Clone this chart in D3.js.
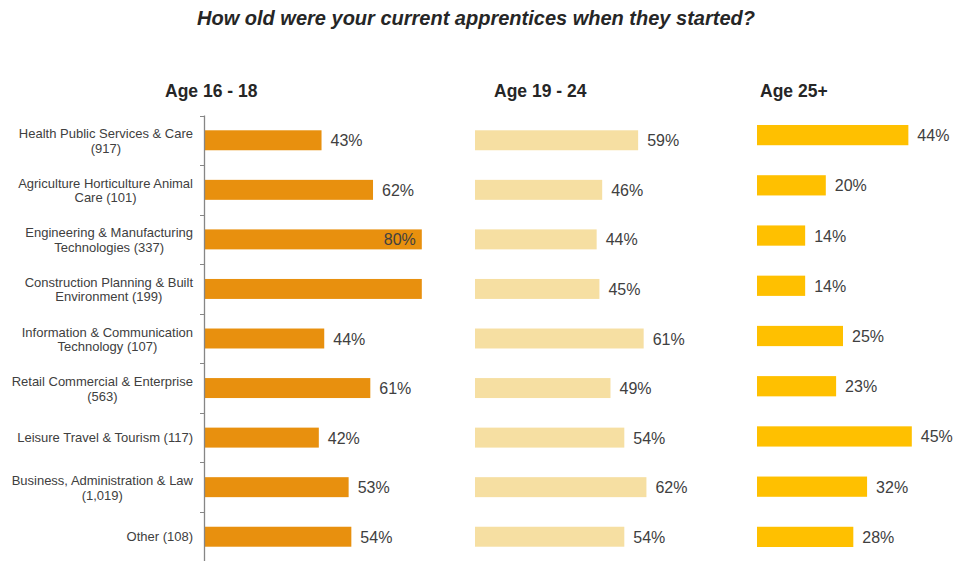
<!DOCTYPE html>
<html>
<head>
<meta charset="utf-8">
<script src="https://cdn.jsdelivr.net/npm/d3@7"></script>
<style>
  html, body { margin: 0; padding: 0; background: #fff; }
  svg { display: block; font-family: Arial, "Liberation Sans", sans-serif; }
</style>
</head>
<body>
<svg id="chart" width="954" height="561"></svg>
<script>
const title = "How old were your current apprentices when they started?";
const categories = [
  ["Health Public Services & Care", "(917)"],
  ["Agriculture Horticulture Animal", "Care (101)"],
  ["Engineering & Manufacturing", "Technologies (337)"],
  ["Construction Planning & Built", "Environment (199)"],
  ["Information & Communication", "Technology (107)"],
  ["Retail Commercial & Enterprise", "(563)"],
  ["Leisure Travel & Tourism (117)"],
  ["Business, Administration & Law", "(1,019)"],
  ["Other (108)"]
];
const seriesNames = ["Age 16 - 18", "Age 19 - 24", "Age 25+"];
const age16to18 = [43, 62, 80, 80, 44, 61, 42, 53, 54];
const age16to18Labels = ["43%", "62%", "80%", "", "44%", "61%", "42%", "53%", "54%"];
const age19to24 = [59, 46, 44, 45, 61, 49, 54, 62, 54];
const age25plus = [44, 20, 14, 14, 25, 23, 45, 32, 28];
const colors = ["#E8900E", "#F6DFA2", "#FFC000"];

const svg = d3.select("#chart");
const textColor = "#404040";

svg.append("text")
  .attr("x", 476).attr("y", 25)
  .attr("text-anchor", "middle")
  .attr("font-size", 20).attr("font-weight", "bold").attr("font-style", "italic")
  .attr("fill", "#262626")
  .text(title);

const panels = [
  { name: seriesNames[0], values: age16to18, labels: age16to18Labels, x0: 205, pxPerUnit: 2.71, yRange: [115.5, 561.5], headerX: 165, color: colors[0] },
  { name: seriesNames[1], values: age19to24, labels: age19to24.map(v => v + "%"), x0: 475, pxPerUnit: 2.765, yRange: [115.5, 561.5], headerX: 494, color: colors[1] },
  { name: seriesNames[2], values: age25plus, labels: age25plus.map(v => v + "%"), x0: 757, pxPerUnit: 3.44, yRange: [110, 562], headerX: 760, color: colors[2] }
];

const idx = d3.range(categories.length);

panels.forEach((p, pi) => {
  const x = d3.scaleLinear().domain([0, 100]).range([p.x0, p.x0 + 100 * p.pxPerUnit]);
  const y = d3.scaleBand().domain(idx).range(p.yRange).paddingInner(0.597).paddingOuter(0.2985);

  svg.append("text")
    .attr("x", p.headerX).attr("y", 97)
    .attr("font-size", 17.5).attr("font-weight", "bold").attr("fill", "#262626")
    .text(p.name);

  const g = svg.append("g");
  g.selectAll("rect").data(idx).enter().append("rect")
    .attr("x", x(0))
    .attr("y", i => y(i))
    .attr("width", i => x(p.values[i]) - x(0))
    .attr("height", y.bandwidth())
    .attr("fill", p.color);

  g.selectAll("text.val").data(idx).enter().append("text")
    .attr("class", "val")
    .attr("x", i => pi === 0 && p.values[i] >= 80 ? x(p.values[i]) - 6 : x(p.values[i]) + 9)
    .attr("y", i => y(i) + y.bandwidth() / 2 + 6)
    .attr("text-anchor", i => pi === 0 && p.values[i] >= 80 ? "end" : "start")
    .attr("font-size", 16).attr("fill", textColor)
    .text(i => p.labels[i]);

  if (pi === 0) {
    const yAxis = d3.scaleBand().domain(idx).range(p.yRange);
    const axisG = svg.append("g");
    axisG.append("line")
      .attr("x1", 204.5).attr("x2", 204.5)
      .attr("y1", p.yRange[0]).attr("y2", p.yRange[1])
      .attr("stroke", "#868686").attr("stroke-width", 1.3);
    axisG.selectAll("line.tick").data(idx).enter().append("line")
      .attr("class", "tick")
      .attr("x1", 200).attr("x2", 204.5)
      .attr("y1", i => Math.round(yAxis(i)) + 0.5).attr("y2", i => Math.round(yAxis(i)) + 0.5)
      .attr("stroke", "#868686").attr("stroke-width", 1);

    const labG = svg.append("g");
    idx.forEach(i => {
      const lines = categories[i];
      const cy = yAxis(i) + yAxis.bandwidth() / 2;
      const t = labG.append("text")
        .attr("font-size", 13).attr("fill", textColor);
      const rightX = 193;
      if (lines.length === 1) {
        t.attr("x", rightX).attr("y", cy + 4.5).attr("text-anchor", "end").text(lines[0]);
      } else {
        const t1 = t.append("tspan").attr("x", rightX).attr("y", cy - 2).attr("text-anchor", "end").text(lines[0]);
        const w = t1.node().getComputedTextLength();
        t.append("tspan").attr("x", rightX - w / 2).attr("y", cy + 12.5).attr("text-anchor", "middle").text(lines[1]);
      }
    });
  }
});
</script>
</body>
</html>
